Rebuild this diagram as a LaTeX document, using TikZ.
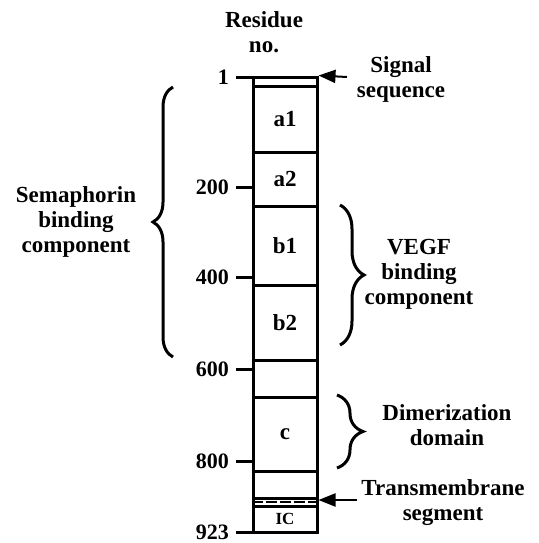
\documentclass[tikz,border=0pt]{standalone}
\usepackage{fontspec}
\setmainfont{Liberation Serif}
\usetikzlibrary{arrows.meta,decorations.pathreplacing}

\begin{document}
\begin{tikzpicture}[yscale=-1
,segbox/.style={draw=black,line width=3pt,minimum width=64pt,inner sep=0,font=\bfseries\fontsize{23}{25}\selectfont}
,tickline/.style={draw=black,line width=3pt}
,numlab/.style={anchor=east,inner sep=0,font=\bfseries\fontsize{22}{24}\selectfont}
,lab/.style={align=center,inner sep=0,font=\bfseries\fontsize{23}{25}\selectfont}
,ptr/.style={draw=black,line width=2pt,-{Triangle[length=17pt,width=13pt]}}
,curly/.style={draw=black,line width=3pt,decorate,decoration={brace,amplitude=#1}}
]
\useasboundingbox (0pt,0pt) rectangle (538pt,543pt);
% column of domains
\node[segbox,minimum height=9pt] (sig) at (285pt,81.5pt) {};
\node[segbox,minimum height=66pt] (a1) at (285pt,119pt) {a1};
\node[segbox,minimum height=54pt] (a2) at (285pt,179pt) {a2};
\node[segbox,minimum height=79pt] (b1) at (285pt,245.5pt) {b1};
\node[segbox,minimum height=75pt] (b2) at (285pt,322.5pt) {b2};
\node[segbox,minimum height=37pt] (gapa) at (285pt,378.5pt) {};
\node[segbox,minimum height=74pt] (c) at (285pt,434pt) {c};
\node[segbox,minimum height=27pt] (gapb) at (285pt,484.5pt) {};
\node[segbox,minimum height=8pt] (tm) at (285pt,502pt) {};
\draw[black,line width=2pt,dash pattern=on 11pt off 3pt] (tm.west) -- (tm.east);
\node[segbox,minimum height=26pt,font=\bfseries\fontsize{17}{19}\selectfont] (ic) at (285pt,519pt) {IC};
% residue scale
\node[lab] (residue) at (264pt,32pt) {Residue\\no.};
\foreach \yy/\num in {77/1,187/200,277/400,369/600,461/800,532/923}{
  \draw[tickline] (236pt,\yy pt) -- (253pt,\yy pt);
  \node[numlab] (n\num) at (229pt,\yy pt) {\num};
}
% pointers
\node[lab] (signal) at (401pt,79pt) {Signal\\sequence};
\coordinate (sigtail) at (347pt,77pt);
\draw[ptr] (sigtail) -- (sig.north east);
\node[lab] (transm) at (443pt,503pt) {Transmembrane\\segment};
\coordinate (tmtail) at (357pt,500pt);
\draw[ptr] (tmtail) -- (tm.east |- tmtail);
% braces
\coordinate (semabot) at (173pt,357pt);
\coordinate (sematop) at (173pt,87pt);
\draw[curly=20pt] (semabot) -- (sematop);
\node[lab] (sema) at (76pt,222pt) {Semaphorin\\binding\\component};
\coordinate (vegftop) at (340pt,205pt);
\coordinate (vegfbot) at (340pt,345pt);
\draw[curly=24pt] (vegftop) -- (vegfbot);
\node[lab] (vegf) at (419pt,274pt) {VEGF\\binding\\component};
\coordinate (dimtop) at (337pt,395pt);
\coordinate (dimbot) at (337pt,468pt);
\draw[curly=26pt] (dimtop) -- (dimbot);
\node[lab] (dimer) at (447pt,425pt) {Dimerization\\domain};
\end{tikzpicture}
\end{document}
